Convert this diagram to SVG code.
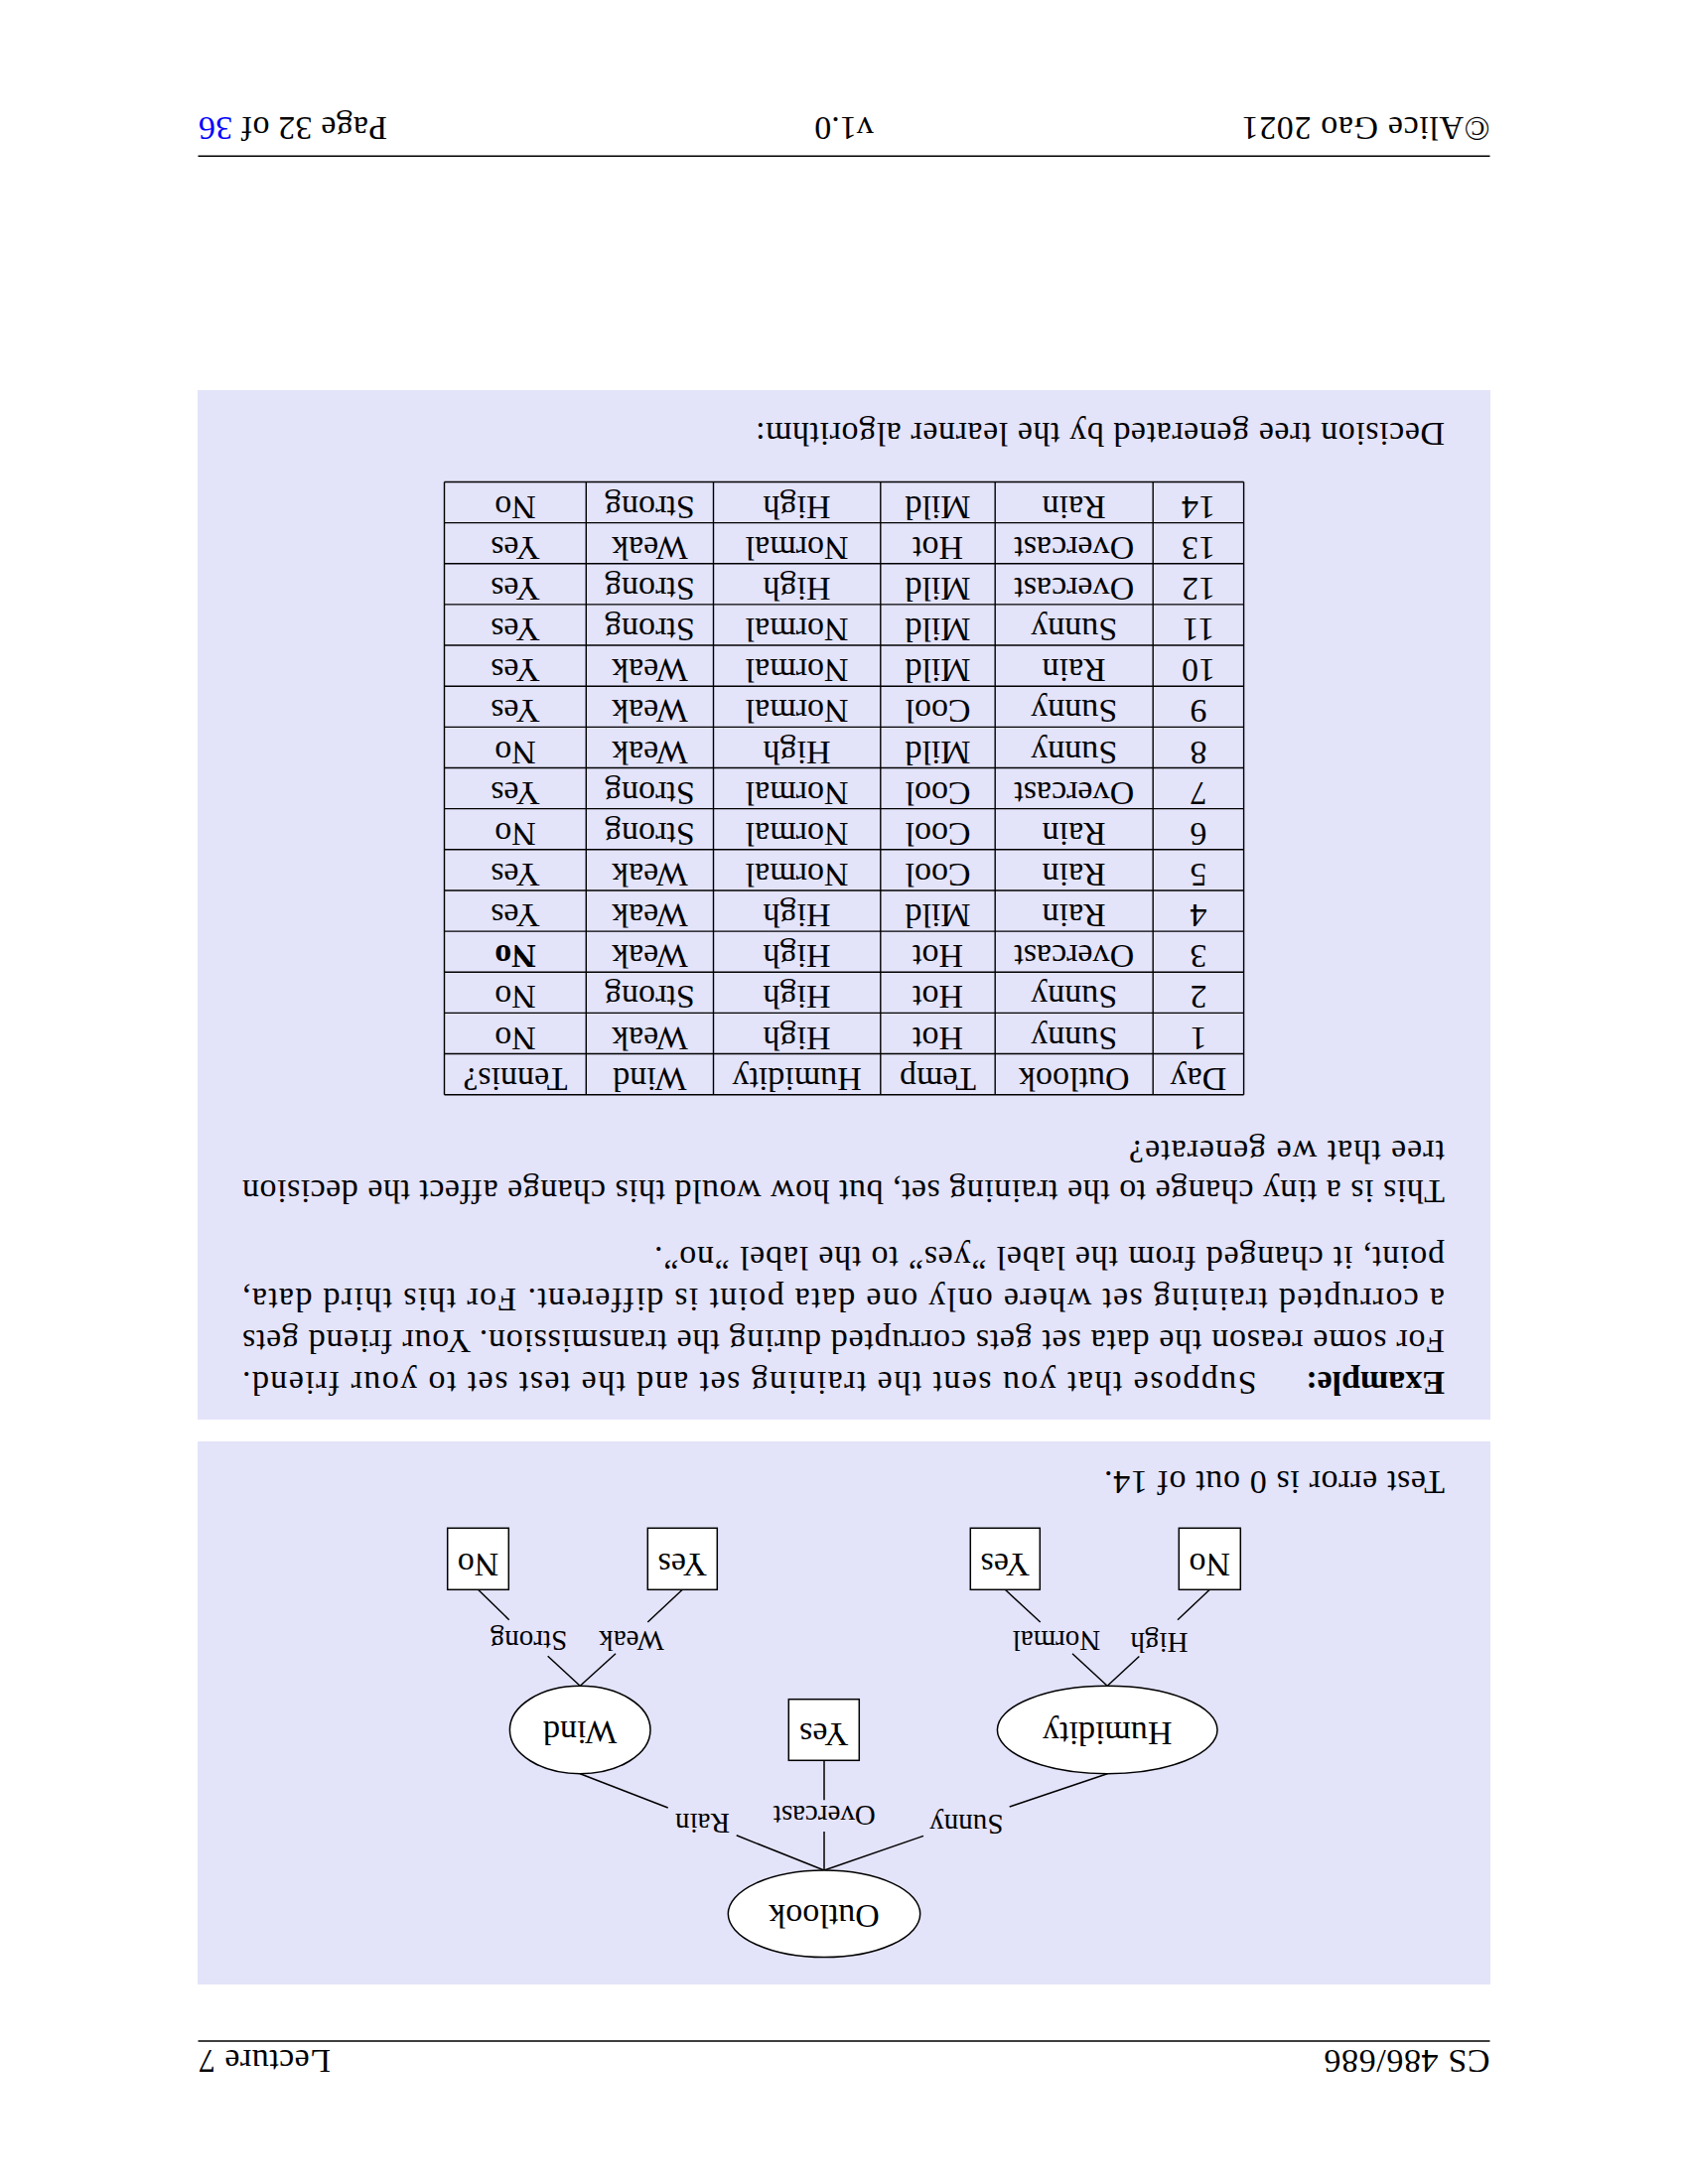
<svg xmlns="http://www.w3.org/2000/svg" width="1700" height="2200" viewBox="0 0 1700 2200">
<style>
text{font-family:"Liberation Serif","DejaVu Serif",serif;fill:#000}
.t{font-size:34px}
.c{font-size:34px;text-anchor:middle}
.l{font-size:29px;text-anchor:middle}
.bx{fill:#e3e3fa}
.nd{fill:#fff;stroke:#000;stroke-width:1.5}
.ed{stroke:#000;stroke-width:1.5;fill:none}
.gr{stroke:#000;stroke-width:1.4}
.rule{stroke:#000;stroke-width:1.6}
</style>
<rect width="1700" height="2200" fill="#fff"/>
<g transform="rotate(180 850 1100)">
<g id="header">
<text class="t" x="199.5" y="135" textLength="167" lengthAdjust="spacing">CS 486/686</text>
<text class="t" x="1367" y="135" textLength="133" lengthAdjust="spacing">Lecture 7</text>
<line class="rule" x1="199.5" y1="144" x2="1500.5" y2="144"/>
</g>
<g id="tree-box">
<rect class="bx" x="199" y="201" width="1302" height="547"/>
<text class="t" x="245" y="718" textLength="343" lengthAdjust="spacing">Test error is 0 out of 14.</text>
</g>
<g id="connectors">
<line class="ed" x1="870" y1="316" x2="770" y2="350.6"/>
<line class="ed" x1="683.3" y1="380" x2="584.8" y2="413.3"/>
<line class="ed" x1="870" y1="316" x2="870" y2="355"/>
<line class="ed" x1="870" y1="386.7" x2="870" y2="426.7"/>
<line class="ed" x1="870" y1="316" x2="958.3" y2="351.2"/>
<line class="ed" x1="1027.3" y1="379" x2="1115.8" y2="413.3"/>
<line class="ed" x1="584.8" y1="501.7" x2="552.7" y2="531.5"/>
<line class="ed" x1="514" y1="568.3" x2="481.7" y2="598.7"/>
<line class="ed" x1="584.8" y1="501.7" x2="620" y2="534.3"/>
<line class="ed" x1="652.3" y1="566" x2="687.7" y2="598.7"/>
<line class="ed" x1="1115.8" y1="501.7" x2="1080" y2="534.3"/>
<line class="ed" x1="1047.7" y1="566" x2="1012.7" y2="598.7"/>
<line class="ed" x1="1115.8" y1="501.7" x2="1148.3" y2="531.7"/>
<line class="ed" x1="1187.3" y1="568.3" x2="1218.5" y2="598.7"/>
<text class="l" x="726.7" y="372">Sunny</text>
<text class="l" x="869.7" y="381">Overcast</text>
<text class="l" x="992.5" y="373">Rain</text>
<text class="l" x="532.5" y="555">High</text>
<text class="l" x="636" y="557">Normal</text>
<text class="l" x="1064" y="557">Weak</text>
<text class="l" x="1167.5" y="557">Strong</text>
</g>
<g id="n-outlook"><ellipse class="nd" cx="870" cy="272.2" rx="96.7" ry="43.8"/><text class="c" x="870" y="281.5">Outlook</text></g>
<g id="n-humidity"><ellipse class="nd" cx="584.8" cy="457.5" rx="110.8" ry="44.2"/><text class="c" x="584.8" y="465">Humidity</text></g>
<g id="n-wind"><ellipse class="nd" cx="1115.8" cy="457.5" rx="70.8" ry="44.2"/><text class="c" x="1115.8" y="466.5">Wind</text></g>
<g id="n-yes-overcast"><rect class="nd" x="834.7" y="426.7" width="71" height="61.6"/><text class="c" x="870.2" y="464">Yes</text></g>
<g id="n-no-high"><rect class="nd" x="450.7" y="598.7" width="62" height="62"/><text class="c" x="481.7" y="635">No</text></g>
<g id="n-yes-normal"><rect class="nd" x="652.7" y="598.7" width="70" height="62"/><text class="c" x="687.7" y="635">Yes</text></g>
<g id="n-yes-weak"><rect class="nd" x="977.7" y="598.7" width="70" height="62"/><text class="c" x="1012.7" y="635">Yes</text></g>
<g id="n-no-strong"><rect class="nd" x="1187.7" y="598.7" width="61.6" height="62"/><text class="c" x="1218.5" y="635">No</text></g>
<g id="example-box">
<rect class="bx" x="199" y="770" width="1302" height="1037"/>
<text class="t" x="245" y="818.5" font-weight="bold">Example:</text>
<text class="t" x="434.5" y="818.5" textLength="1021.5" lengthAdjust="spacing">Suppose that you sent the training set and the test set to your friend.</text>
<text class="t" x="245" y="860" textLength="1211" lengthAdjust="spacing">For some reason the data set gets corrupted during the transmission.  Your friend gets</text>
<text class="t" x="245" y="902" textLength="1211" lengthAdjust="spacing">a corrupted training set where only one data point is different.  For this third data,</text>
<text class="t" x="245" y="944" textLength="796" lengthAdjust="spacing">point, it changed from the label ”yes” to the label ”no”.</text>
<text class="t" x="245" y="1011.5" textLength="1211" lengthAdjust="spacing">This is a tiny change to the training set, but how would this change affect the decision</text>
<text class="t" x="245" y="1051" textLength="318" lengthAdjust="spacing">tree that we generate?</text>
<text class="t" x="245" y="1774" textLength="694" lengthAdjust="spacing">Decision tree generated by the learner algorithm:</text>
</g>
<g id="table">
<g class="gr">
<line x1="447.4" y1="1097.3" x2="447.4" y2="1714.6"/>
<line x1="538.8" y1="1097.3" x2="538.8" y2="1714.6"/>
<line x1="697.8" y1="1097.3" x2="697.8" y2="1714.6"/>
<line x1="813.2" y1="1097.3" x2="813.2" y2="1714.6"/>
<line x1="981.5" y1="1097.3" x2="981.5" y2="1714.6"/>
<line x1="1109.7" y1="1097.3" x2="1109.7" y2="1714.6"/>
<line x1="1252.5" y1="1097.3" x2="1252.5" y2="1714.6"/>
<line x1="447.4" y1="1097.3" x2="1252.5" y2="1097.3"/>
<line x1="447.4" y1="1138.45" x2="1252.5" y2="1138.45"/>
<line x1="447.4" y1="1179.6" x2="1252.5" y2="1179.6"/>
<line x1="447.4" y1="1220.75" x2="1252.5" y2="1220.75"/>
<line x1="447.4" y1="1261.9" x2="1252.5" y2="1261.9"/>
<line x1="447.4" y1="1303.05" x2="1252.5" y2="1303.05"/>
<line x1="447.4" y1="1344.2" x2="1252.5" y2="1344.2"/>
<line x1="447.4" y1="1385.35" x2="1252.5" y2="1385.35"/>
<line x1="447.4" y1="1426.5" x2="1252.5" y2="1426.5"/>
<line x1="447.4" y1="1467.65" x2="1252.5" y2="1467.65"/>
<line x1="447.4" y1="1508.8" x2="1252.5" y2="1508.8"/>
<line x1="447.4" y1="1549.95" x2="1252.5" y2="1549.95"/>
<line x1="447.4" y1="1591.1" x2="1252.5" y2="1591.1"/>
<line x1="447.4" y1="1632.25" x2="1252.5" y2="1632.25"/>
<line x1="447.4" y1="1673.4" x2="1252.5" y2="1673.4"/>
<line x1="447.4" y1="1714.55" x2="1252.5" y2="1714.55"/>
</g>
<g class="c">
<text class="c" x="493.1" y="1124.3">Day</text><text class="c" x="618.3" y="1124.3">Outlook</text><text class="c" x="755.5" y="1124.3">Temp</text><text class="c" x="897.4" y="1124.3">Humidity</text><text class="c" x="1045.6" y="1124.3">Wind</text><text class="c" x="1181.1" y="1124.3">Tennis?</text>
<text class="c" x="493.1" y="1165.45">1</text><text class="c" x="618.3" y="1165.45">Sunny</text><text class="c" x="755.5" y="1165.45">Hot</text><text class="c" x="897.4" y="1165.45">High</text><text class="c" x="1045.6" y="1165.45">Weak</text><text class="c" x="1181.1" y="1165.45">No</text>
<text class="c" x="493.1" y="1206.6">2</text><text class="c" x="618.3" y="1206.6">Sunny</text><text class="c" x="755.5" y="1206.6">Hot</text><text class="c" x="897.4" y="1206.6">High</text><text class="c" x="1045.6" y="1206.6">Strong</text><text class="c" x="1181.1" y="1206.6">No</text>
<text class="c" x="493.1" y="1247.75">3</text><text class="c" x="618.3" y="1247.75">Overcast</text><text class="c" x="755.5" y="1247.75">Hot</text><text class="c" x="897.4" y="1247.75">High</text><text class="c" x="1045.6" y="1247.75">Weak</text><text class="c" x="1181.1" y="1247.75" font-weight="bold">No</text>
<text class="c" x="493.1" y="1288.9">4</text><text class="c" x="618.3" y="1288.9">Rain</text><text class="c" x="755.5" y="1288.9">Mild</text><text class="c" x="897.4" y="1288.9">High</text><text class="c" x="1045.6" y="1288.9">Weak</text><text class="c" x="1181.1" y="1288.9">Yes</text>
<text class="c" x="493.1" y="1330.05">5</text><text class="c" x="618.3" y="1330.05">Rain</text><text class="c" x="755.5" y="1330.05">Cool</text><text class="c" x="897.4" y="1330.05">Normal</text><text class="c" x="1045.6" y="1330.05">Weak</text><text class="c" x="1181.1" y="1330.05">Yes</text>
<text class="c" x="493.1" y="1371.2">6</text><text class="c" x="618.3" y="1371.2">Rain</text><text class="c" x="755.5" y="1371.2">Cool</text><text class="c" x="897.4" y="1371.2">Normal</text><text class="c" x="1045.6" y="1371.2">Strong</text><text class="c" x="1181.1" y="1371.2">No</text>
<text class="c" x="493.1" y="1412.35">7</text><text class="c" x="618.3" y="1412.35">Overcast</text><text class="c" x="755.5" y="1412.35">Cool</text><text class="c" x="897.4" y="1412.35">Normal</text><text class="c" x="1045.6" y="1412.35">Strong</text><text class="c" x="1181.1" y="1412.35">Yes</text>
<text class="c" x="493.1" y="1453.5">8</text><text class="c" x="618.3" y="1453.5">Sunny</text><text class="c" x="755.5" y="1453.5">Mild</text><text class="c" x="897.4" y="1453.5">High</text><text class="c" x="1045.6" y="1453.5">Weak</text><text class="c" x="1181.1" y="1453.5">No</text>
<text class="c" x="493.1" y="1494.65">9</text><text class="c" x="618.3" y="1494.65">Sunny</text><text class="c" x="755.5" y="1494.65">Cool</text><text class="c" x="897.4" y="1494.65">Normal</text><text class="c" x="1045.6" y="1494.65">Weak</text><text class="c" x="1181.1" y="1494.65">Yes</text>
<text class="c" x="493.1" y="1535.8">10</text><text class="c" x="618.3" y="1535.8">Rain</text><text class="c" x="755.5" y="1535.8">Mild</text><text class="c" x="897.4" y="1535.8">Normal</text><text class="c" x="1045.6" y="1535.8">Weak</text><text class="c" x="1181.1" y="1535.8">Yes</text>
<text class="c" x="493.1" y="1576.95">11</text><text class="c" x="618.3" y="1576.95">Sunny</text><text class="c" x="755.5" y="1576.95">Mild</text><text class="c" x="897.4" y="1576.95">Normal</text><text class="c" x="1045.6" y="1576.95">Strong</text><text class="c" x="1181.1" y="1576.95">Yes</text>
<text class="c" x="493.1" y="1618.1">12</text><text class="c" x="618.3" y="1618.1">Overcast</text><text class="c" x="755.5" y="1618.1">Mild</text><text class="c" x="897.4" y="1618.1">High</text><text class="c" x="1045.6" y="1618.1">Strong</text><text class="c" x="1181.1" y="1618.1">Yes</text>
<text class="c" x="493.1" y="1659.25">13</text><text class="c" x="618.3" y="1659.25">Overcast</text><text class="c" x="755.5" y="1659.25">Hot</text><text class="c" x="897.4" y="1659.25">Normal</text><text class="c" x="1045.6" y="1659.25">Weak</text><text class="c" x="1181.1" y="1659.25">Yes</text>
<text class="c" x="493.1" y="1700.4">14</text><text class="c" x="618.3" y="1700.4">Rain</text><text class="c" x="755.5" y="1700.4">Mild</text><text class="c" x="897.4" y="1700.4">High</text><text class="c" x="1045.6" y="1700.4">Strong</text><text class="c" x="1181.1" y="1700.4">No</text>
</g>
</g>
<g id="footer">
<line class="rule" x1="199.5" y1="2042.7" x2="1500.5" y2="2042.7"/>
<text class="t" x="199.5" y="2081.7" textLength="250" lengthAdjust="spacing">©Alice Gao 2021</text>
<text class="c" x="850" y="2081.7">v1.0</text>
<text class="t" x="1310" y="2081.7" textLength="190" lengthAdjust="spacing">Page 32 of <tspan fill="#0000ff">36</tspan></text>
</g>
</g>
</svg>
